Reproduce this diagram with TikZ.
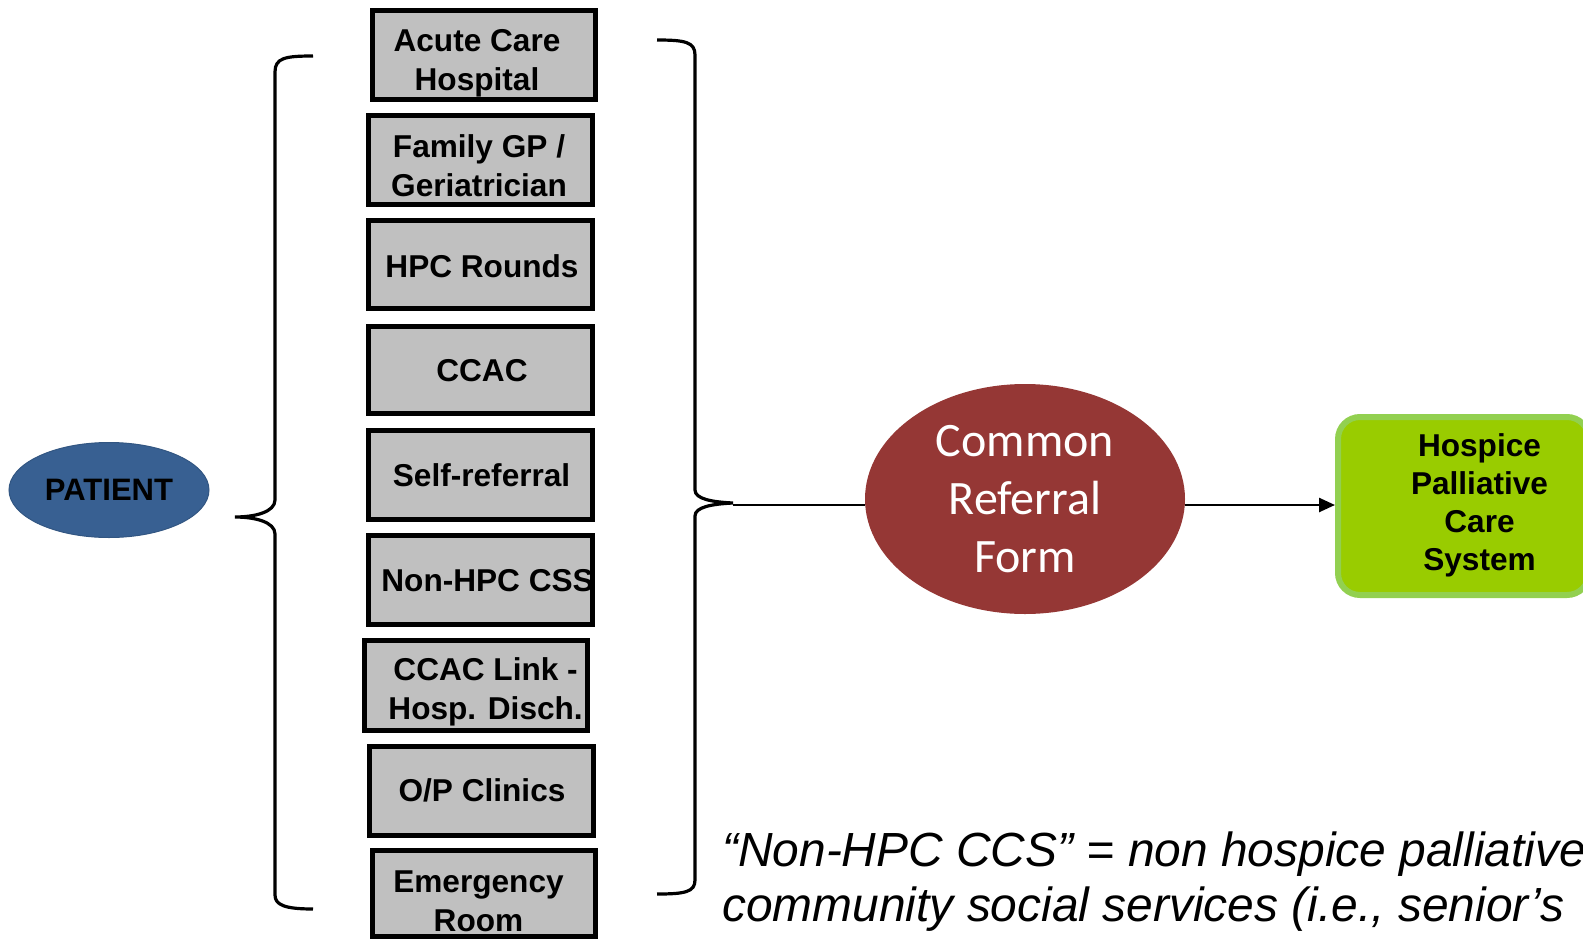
\documentclass[tikz,border=0pt]{standalone}
\usepackage{fontspec}
\setmainfont{Liberation Sans}
\newfontfamily\calfont{Carlito}
\usetikzlibrary{shapes.geometric,arrows.meta,calc}
\definecolor{boxgray}{RGB}{192,192,192}
\definecolor{patblue}{RGB}{56,96,146}
\definecolor{patedge}{RGB}{50,86,130}
\definecolor{crfred}{RGB}{149,55,53}
\definecolor{hpcfill}{RGB}{153,204,0}
\definecolor{hpcedge}{RGB}{146,208,80}
\tikzset{
  srcbox/.style={rectangle, draw=black, line width=5pt, fill=boxgray, inner sep=0pt},
  srclabel/.style={font=\bfseries\fontsize{31.6}{39}\selectfont, align=center, inner sep=0pt},
  bracestroke/.style={draw=black, line width=3.2pt},
  conn/.style={draw=black, line width=2.5pt},
  notetext/.style={font=\itshape\fontsize{47.9}{55}\selectfont, inner sep=0pt, anchor=base west}
}
\begin{document}
\begin{tikzpicture}[x=1pt,y=-1pt]
\useasboundingbox (0,0) rectangle (1583,940);
\clip (0,0) rectangle (1583,940);

% patient
\node[ellipse, fill=patblue, draw=patedge, line width=1pt, minimum width=200pt, minimum height=95pt, inner sep=0pt,
      font=\bfseries\fontsize{31}{36}\selectfont] (patient) at (109,490) {PATIENT};

% source boxes
\node[srcbox, minimum width=223pt, minimum height=89pt] (b1) at (484,55) {};
\node[srcbox, minimum width=224pt, minimum height=89pt] (b2) at (480.5,160) {};
\node[srcbox, minimum width=224pt, minimum height=88pt] (b3) at (480.5,264.5) {};
\node[srcbox, minimum width=224pt, minimum height=87pt] (b4) at (480.5,370) {};
\node[srcbox, minimum width=224pt, minimum height=89pt] (b5) at (480.5,475) {};
\node[srcbox, minimum width=224pt, minimum height=89pt] (b6) at (480.5,580) {};
\node[srcbox, minimum width=223pt, minimum height=90pt] (b7) at (476,685) {};
\node[srcbox, minimum width=224pt, minimum height=89pt] (b8) at (481,790.5) {};
\node[srcbox, minimum width=223pt, minimum height=86pt] (b9) at (484,893.5) {};

\node[srclabel] (t1) at (477,63) {Acute Care\\Hospital};
\node[srclabel] (t2) at (479,166) {Family GP /\\Geriatrician};
\node[srclabel] (t3) at (482,266) {HPC Rounds};
\node[srclabel] (t4) at (482,370.5) {CCAC};
\node[srclabel] (t5) at (481.6,475.5) {Self-referral};
\node[srclabel] (t6) at (487.6,580.5) {Non-HPC CSS};
\node[srclabel] (t7) at (485.6,692) {CCAC Link -\\Hosp. Disch.};
\node[srclabel] (t8) at (482,790.5) {O/P Clinics};
\node[srclabel] (t9) at (478.5,901.5) {Emergency\\Room};

% left brace
\draw[bracestroke] (313,56) .. controls (285,56) and (275,58) .. (275,72)
  -- (275,500) .. controls (275,512) and (255,517) .. (235,517)
  .. controls (255,517) and (275,522) .. (275,534)
  -- (275,895) .. controls (275,905) and (285,909) .. (313,909);

% right brace
\draw[bracestroke] (657,40) .. controls (685,40) and (695,42) .. (695,55)
  -- (695,490) .. controls (695,499) and (712,502) .. (733,503)
  .. controls (712,504) and (695,507) .. (695,516)
  -- (695,880) .. controls (695,892) and (685,894) .. (657,894);
\coordinate (rtip) at (733,505);

% common referral form
\node[ellipse, fill=crfred, minimum width=320pt, minimum height=230pt, inner sep=0pt,
      text=white, align=center, font=\calfont\fontsize{48}{58}\selectfont] (crf) at (1025,499)
      {Common\\Referral\\Form};

% hospice palliative care system
\node[rectangle, rounded corners=22pt, fill=hpcfill, draw=hpcedge, line width=6pt,
      minimum width=251pt, minimum height=178pt, inner sep=0pt] (hpc) at (1463.5,506) {};
\node[font=\bfseries\fontsize{31.6}{38}\selectfont, align=center, inner sep=0pt] (hpct) at (1479.5,505)
      {Hospice\\Palliative\\Care\\System};

% connectors
\draw[conn] (rtip) -- (crf.west |- rtip);
\draw[conn, -{Triangle[length=16pt,width=14pt]}] (crf.east |- rtip) -- (hpc.west |- rtip);

% note
\node[notetext] (note1) at (722,866) {“Non-HPC CCS” = non hospice palliative};
\node[notetext] (note2) at (722,921) {community social services (i.e., senior’s};
\end{tikzpicture}
\end{document}
